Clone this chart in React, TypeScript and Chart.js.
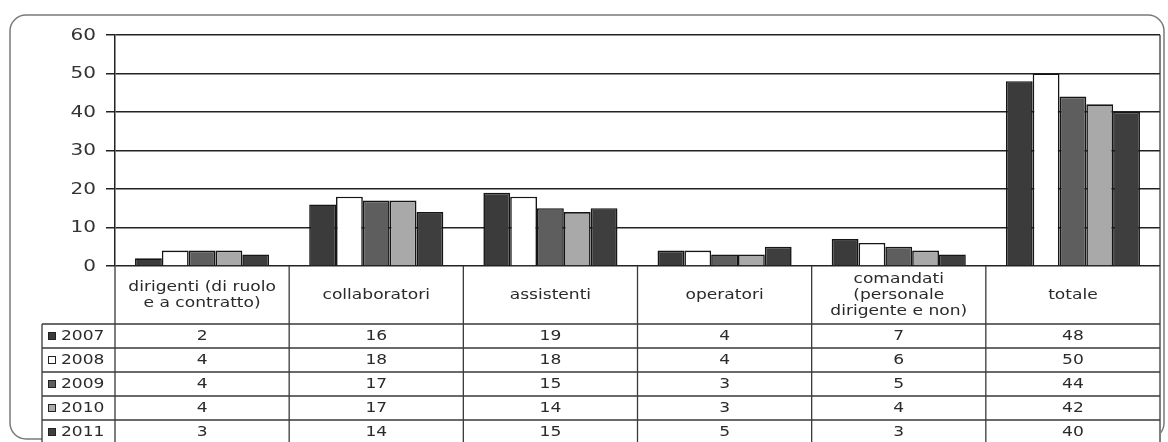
import React, { useEffect, useRef } from "react";
import { Chart, registerables } from "chart.js";

Chart.register(...registerables);

const categoryLines: string[][] = [
  ["dirigenti (di ruolo", "e a contratto)"],
  ["collaboratori"],
  ["assistenti"],
  ["operatori"],
  ["comandati", "(personale", "dirigente e non)"],
  ["totale"],
];
const years = ["2007", "2008", "2009", "2010", "2011"];
const values2007 = [2, 16, 19, 4, 7, 48];
const values2008 = [4, 18, 18, 4, 6, 50];
const values2009 = [4, 17, 15, 3, 5, 44];
const values2010 = [4, 17, 14, 3, 4, 42];
const values2011 = [3, 14, 15, 5, 3, 40];
const yTickMin = 0;
const yTickMax = 60;
const yTickStep = 10;

const seriesValues = [values2007, values2008, values2009, values2010, values2011];
const seriesColors = ["#3b3b3b", "#ffffff", "#5e5e5e", "#a9a9a9", "#3e3e3e"];

const FONT = '"DejaVu Sans", Verdana, sans-serif';
const STRETCH = 1.22;

function stretchedText(ctx: CanvasRenderingContext2D, text: string, x: number, y: number, align: CanvasTextAlign, sx = STRETCH) {
  ctx.save();
  ctx.translate(x, y);
  ctx.scale(sx, 1);
  ctx.textAlign = align;
  ctx.textBaseline = "middle";
  ctx.fillText(text, 0, 0);
  ctx.restore();
}

const framePlugin = {
  id: "frame",
  beforeDraw(chart: any) {
    const ctx: CanvasRenderingContext2D = chart.ctx;
    ctx.save();
    ctx.fillStyle = "#ffffff";
    ctx.fillRect(0, 0, chart.width, chart.height);
    ctx.strokeStyle = "#7a7a7a";
    ctx.lineWidth = 1.5;
    ctx.beginPath();
    (ctx as any).roundRect(10, 15, 1154, 424, 16);
    ctx.stroke();
    ctx.restore();
  },
};

const tablePlugin = {
  id: "dataTable",
  afterDraw(chart: any) {
    const ctx: CanvasRenderingContext2D = chart.ctx;
    const area = chart.chartArea;
    const x = chart.scales.x;
    const y = chart.scales.y;
    const n = categoryLines.length;
    const half = (x.getPixelForValue(1) - x.getPixelForValue(0)) / 2;
    const headerTop = area.bottom;
    const headerBottom = headerTop + 58;
    const rowH = 24;
    const legendLeft = 42;
    const bottom = chart.height + 4;

    ctx.save();
    // y-axis tick labels, from the scale's own ticks
    ctx.fillStyle = "#333";
    ctx.font = `16px ${FONT}`;
    y.ticks.forEach((t: any) => {
      stretchedText(ctx, String(t.value), 96, y.getPixelForValue(t.value) + 0.5, "right", 1.25);
    });

    // white background of the table body
    ctx.fillStyle = "#ffffff";
    ctx.fillRect(legendLeft, headerBottom, area.right - legendLeft + 1, bottom - headerBottom);

    ctx.strokeStyle = "#3a3a3a";
    ctx.lineWidth = 1.3;
    ctx.beginPath();
    for (let i = 0; i <= n; i++) {
      const px = i === 0 ? area.left : i === n ? area.right : x.getPixelForValue(i) - half;
      ctx.moveTo(px, headerTop);
      ctx.lineTo(px, bottom);
    }
    ctx.moveTo(legendLeft, headerBottom);
    ctx.lineTo(legendLeft, bottom);
    ctx.moveTo(area.right, area.top);
    ctx.lineTo(area.right, headerTop);
    for (let r = 0; r <= years.length; r++) {
      const py = headerBottom + r * rowH;
      ctx.moveTo(legendLeft, py);
      ctx.lineTo(area.right, py);
    }
    ctx.stroke();

    ctx.fillStyle = "#2a2a2a";
    ctx.font = `14px ${FONT}`;
    const headerMid = (headerTop + headerBottom) / 2;
    for (let i = 0; i < n; i++) {
      const cx = x.getPixelForValue(i);
      const lines = categoryLines[i];
      const lh = 16;
      const start = headerMid - ((lines.length - 1) * lh) / 2;
      lines.forEach((t, k) => stretchedText(ctx, t, cx, start + k * lh, "center"));
    }
    for (let r = 0; r < years.length; r++) {
      const cy = headerBottom + r * rowH + rowH / 2;
      ctx.fillStyle = seriesColors[r];
      ctx.fillRect(48, cy - 4, 8, 8);
      ctx.strokeStyle = "#222";
      ctx.lineWidth = 1;
      ctx.strokeRect(48.5, cy - 3.5, 7, 7);
      ctx.fillStyle = "#2a2a2a";
      stretchedText(ctx, years[r], 61, cy, "left");
      const ds = chart.data.datasets[r];
      for (let i = 0; i < n; i++) {
        stretchedText(ctx, String(ds.data[i]), x.getPixelForValue(i), cy, "center");
      }
    }
    ctx.restore();
  },
};

export default function App() {
  const ref = useRef<HTMLCanvasElement | null>(null);
  useEffect(() => {
    if (!ref.current) return;
    const chart = new Chart(ref.current, {
      type: "bar",
      data: {
        labels: categoryLines.map((l) => l.join(" ")),
        datasets: years.map((yr, i) => ({
          label: yr,
          data: seriesValues[i],
          backgroundColor: seriesColors[i],
          borderColor: "#151515",
          borderWidth: 1.6,
          barPercentage: 1.0,
          categoryPercentage: 0.77,
        })),
      },
      options: {
        responsive: false,
        animation: false,
        layout: { padding: { left: 0, right: 8, top: 35, bottom: 176 } },
        plugins: { legend: { display: false }, tooltip: { enabled: false }, title: { display: false } },
        scales: {
          x: { display: false },
          y: {
            min: yTickMin,
            max: yTickMax,
            afterFit: (s: any) => {
              s.width = 115;
            },
            ticks: {
              stepSize: yTickStep,
              display: false,
            },
            grid: { color: "#222", lineWidth: 1.5, tickLength: 9 },
            border: { color: "#222", width: 1.5 },
          },
        },
      },
      plugins: [framePlugin, tablePlugin],
    });
    return () => chart.destroy();
  }, []);
  return (
    <div style={{ position: "absolute", left: 0, top: 0, width: 1168, height: 442 }}>
      <canvas ref={ref} width={1168} height={442} style={{ width: 1168, height: 442, display: "block" }} />
    </div>
  );
}
